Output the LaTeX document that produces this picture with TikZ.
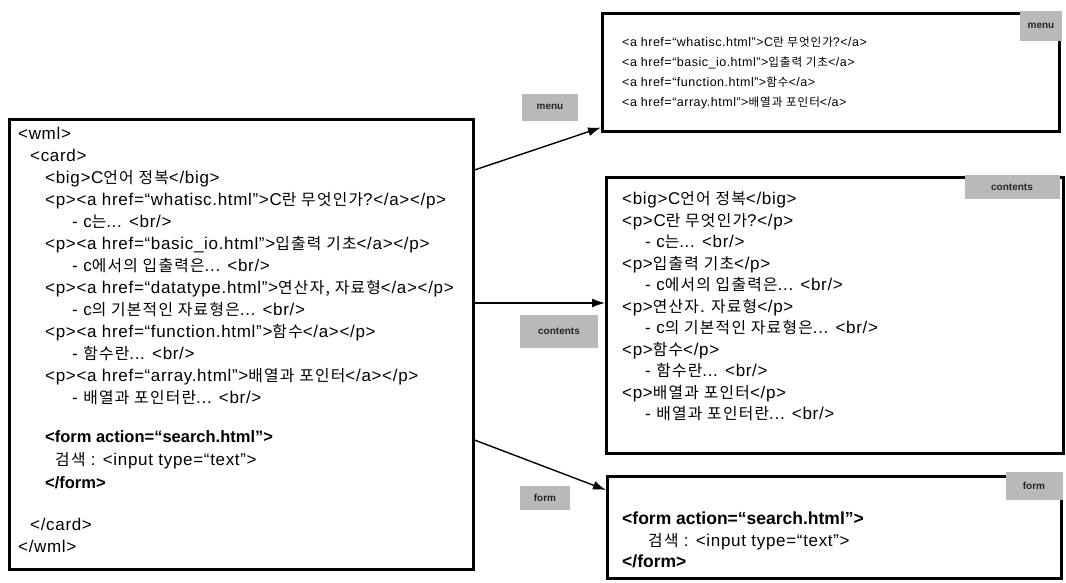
\documentclass[tikz,border=0pt]{standalone}
\usepackage{fontspec}
\setmainfont{Liberation Sans}[LetterSpace=4, BoldFeatures={LetterSpace=0}]
\newfontfamily\krfont{Noto Sans CJK KR}[Scale=0.93, LetterSpace=8]
\newcommand{\K}[1]{{\krfont #1}}
\usetikzlibrary{arrows.meta,calc}
\begin{document}
\begin{tikzpicture}[x=1pt,y=-1pt,
  box/.style={draw, line width=2.5pt, inner sep=0pt, anchor=north west},
  ln/.style={anchor=west, inner sep=0pt, text height=12pt, text depth=3pt, font=\fontsize{17}{19}\selectfont},
  bl/.style={ln, font=\fontsize{16.5}{19}\selectfont\bfseries},
  mn/.style={ln, font=\fontsize{12.5}{15}\selectfont},
  tag/.style={fill=gray!55, inner sep=0pt, font=\fontsize{10}{12}\selectfont\bfseries, text=black!85},
  conn/.style={line width=1.4pt, -{Latex[length=13pt,width=9pt]}}]
\useasboundingbox (0,0) rectangle (1066,582);

% boxes
\node[box, minimum width=464pt, minimum height=450pt] (L) at (8,118) {};
\node[box, minimum width=457pt, minimum height=118pt] (M) at (601,12) {};
\node[box, minimum width=457pt, minimum height=276pt] (C) at (605,176) {};
\node[box, minimum width=454pt, minimum height=102pt] (F) at (606,475) {};

% left box text
\node[ln] (l1) at (18,135) {<wml>};
\node[ln] (l2) at (30,157) {<card>};
\node[ln] (l3) at (45,179) {<big>C\K{언어 정복}</big>};
\node[ln] (l4) at (45,201) {<p><a href=“whatisc.html”>C\K{란 무엇인가}?</a></p>};
\node[ln] (l5) at (72,223) {- c\K{는}... <br/>};
\node[ln] (l6) at (45,245) {<p><a href=“basic\_io.html”>\K{입출력 기초}</a></p>};
\node[ln] (l7) at (72,267) {- c\K{에서의 입출력은}... <br/>};
\node[ln] (l8) at (45,289) {<p><a href=“datatype.html”>\K{연산자, 자료형}</a></p>};
\node[ln] (l9) at (72,311) {- c\K{의 기본적인 자료형은}... <br/>};
\node[ln] (l10) at (45,333) {<p><a href=“function.html”>\K{함수}</a></p>};
\node[ln] (l11) at (72,355) {- \K{함수란}... <br/>};
\node[ln] (l12) at (45,377) {<p><a href=“array.html”>\K{배열과 포인터}</a></p>};
\node[ln] (l13) at (72,399) {- \K{배열과 포인터란}... <br/>};
\node[bl] (l14) at (45,438) {<form action=“search.html”>};
\node[ln] (l15) at (55,461) {\K{검색} : <input type=“text”>};
\node[bl] (l16) at (45,484) {</form>};
\node[ln] (l17) at (30,526) {</card>};
\node[ln] (l18) at (18,548) {</wml>};

% menu box text
\node[mn] (m1) at (622,42) {<a href=“whatisc.html”>C\K{란 무엇인가}?</a>};
\node[mn] (m2) at (622,62) {<a href=“basic\_io.html”>\K{입출력 기초}</a>};
\node[mn] (m3) at (622,82) {<a href=“function.html”>\K{함수}</a>};
\node[mn] (m4) at (622,102) {<a href=“array.html”>\K{배열과 포인터}</a>};

% contents box text
\node[ln] (c1) at (622,200) {<big>C\K{언어 정복}</big>};
\node[ln] (c2) at (622,221.5) {<p>C\K{란 무엇인가}?</p>};
\node[ln] (c3) at (645,243) {- c\K{는}... <br/>};
\node[ln] (c4) at (622,264.5) {<p>\K{입출력 기초}</p>};
\node[ln] (c5) at (645,286) {- c\K{에서의 입출력은}... <br/>};
\node[ln] (c6) at (622,307.5) {<p>\K{연산자. 자료형}</p>};
\node[ln] (c7) at (645,329) {- c\K{의 기본적인 자료형은}... <br/>};
\node[ln] (c8) at (622,350.5) {<p>\K{함수}</p>};
\node[ln] (c9) at (645,372) {- \K{함수란}... <br/>};
\node[ln] (c10) at (622,393.5) {<p>\K{배열과 포인터}</p>};
\node[ln] (c11) at (645,415) {- \K{배열과 포인터란}... <br/>};

% form box text
\node[bl, font=\fontsize{17.5}{19}\selectfont\bfseries] (f1) at (622,520) {<form action=“search.html”>};
\node[ln] (f2) at (648,542) {\K{검색} : <input type=“text”>};
\node[bl, font=\fontsize{17.5}{19}\selectfont\bfseries] (f3) at (622,563) {</form>};

% corner tags
\node[tag, minimum width=42pt, minimum height=30pt] (tm) at (1041,26) {menu};
\node[tag, minimum width=95pt, minimum height=24pt] (tc) at (1012,187) {contents};
\node[tag, minimum width=57pt, minimum height=28pt] (tf) at (1034,486) {form};

% connectors
\coordinate (s1) at ($(L.north east)+(0,52)$);
\coordinate (e1) at ($(M.south west)+(0,-5)$);
\coordinate (s2) at ($(L.north east)+(0,185)$);
\coordinate (s3) at ($(L.north east)+(0,322)$);
\coordinate (e3) at ($(F.north west)+(0,15)$);
\draw[conn] (s1) -- (e1);
\draw[conn] (s2) -- (C.west |- s2);
\draw[conn] (s3) -- (e3);

% connector labels
\node[tag, minimum width=56pt, minimum height=27pt] (am) at (550,107) {menu};
\node[tag, minimum width=78pt, minimum height=33pt] (ac) at (559,331) {contents};
\node[tag, minimum width=50pt, minimum height=24pt] (af) at (545,498) {form};
\end{tikzpicture}
\end{document}
